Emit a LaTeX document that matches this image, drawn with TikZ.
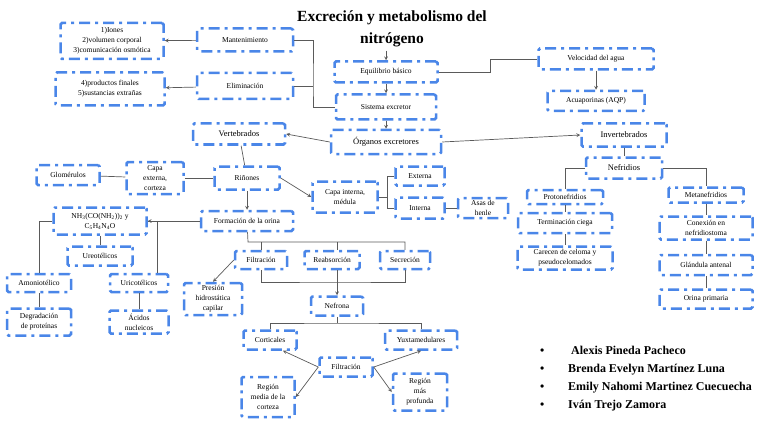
\documentclass[tikz,border=0pt]{standalone}
\usepackage{fontspec}
\setmainfont{Liberation Serif}
\usepackage{xcolor}
\usetikzlibrary{arrows,positioning,calc}
\definecolor{boxblue}{HTML}{4A86E8}
\definecolor{linkgray}{HTML}{5A5A5A}

\begin{document}
\begin{tikzpicture}[x=1pt, y=-1pt, >=stealth,
    box/.style={draw=boxblue, line width=2.5pt, dash pattern=on 11pt off 5pt on 3pt off 5pt, rounded corners=1.5pt, align=center, inner sep=1pt, font=\fontsize{7.5}{10}\selectfont},
    bigbox/.style={box, font=\fontsize{8.5}{10}\selectfont},
    link/.style={draw=linkgray, line width=0.7pt}]
    \useasboundingbox (0,0) rectangle (768,433);

    \node [align=center, font=\fontsize{15.5}{22}\selectfont\bfseries] (title) at (392,29) {Excreción y metabolismo del\\nitrógeno};

    % top centre
    \node [box, minimum width=103pt, minimum height=21pt] (equi) at (386,72) {Equilibrio básico};
    \node [box, below of=equi, node distance=35pt, minimum width=100pt, minimum height=25pt] (sis) {Sistema excretor};
    \node [bigbox, below of=sis, node distance=35pt, minimum width=110pt, minimum height=24pt] (org) {Órganos excretores};
    \node [box, minimum width=96pt, minimum height=23pt] (mant) at (245,40) {Mantenimiento};
    \node [box, below of=mant, node distance=46pt, minimum width=96pt, minimum height=26pt] (elim) {Eliminación};
    \node [box, minimum width=103pt, minimum height=36pt] (ions) at (112,41) {1)Iones\\2)volumen corporal\\3)comunicación osmótica};
    \node [box, minimum width=109pt, minimum height=33pt] (prod) at (110,89) {4)productos finales\\5)sustancias extrañas};
    \node [box, minimum width=115pt, minimum height=21pt] (vel) at (596,59) {Velocidad del agua};
    \node [box, below of=vel, node distance=42pt, minimum width=97pt, minimum height=20pt] (aqp) {Acuaporinas (AQP)};

    % invertebrados
    \node [bigbox, minimum width=85pt, minimum height=23pt] (inv) at (624,135) {Invertebrados};
    \node [bigbox, below of=inv, node distance=33pt, minimum width=76pt, minimum height=21pt] (nef) {Nefridios};
    \node [box, minimum width=76pt, minimum height=14pt] (proto) at (565,197) {Protonefridios};
    \node [box, below of=proto, node distance=26pt, minimum width=94pt, minimum height=20pt] (term) {Terminación ciega};
    \node [box, below of=term, node distance=35pt, minimum width=95pt, minimum height=23pt] (care) {Carecen de celoma y\\pseudocelomados};
    \node [box, minimum width=75pt, minimum height=15pt] (meta) at (706,195) {Metanefridios};
    \node [box, below of=meta, node distance=33pt, minimum width=93pt, minimum height=23pt] (conex) {Conexión en\\nefridiostoma};
    \node [box, below of=conex, node distance=37pt, minimum width=93pt, minimum height=20pt] (glan) {Glándula antenal};
    \node [box, below of=glan, node distance=34pt, minimum width=93pt, minimum height=19pt] (orina) {Orina primaria};

    % vertebrados
    \node [bigbox, minimum width=92pt, minimum height=21pt] (vert) at (239,134) {Vertebrados};
    \node [box, minimum width=65pt, minimum height=23pt] (rin) at (247,178) {Riñones};
    \node [box, minimum width=57pt, minimum height=32pt] (ext) at (155,178) {Capa\\externa,\\corteza};
    \node [box, minimum width=63pt, minimum height=20pt] (glom) at (68,175) {Glomérulos};
    \node [box, minimum width=65pt, minimum height=31pt] (cint) at (345,197) {Capa interna,\\médula};
    \node [box, minimum width=49pt, minimum height=19pt] (exter) at (420,176) {Externa};
    \node [box, minimum width=49pt, minimum height=21pt] (inter) at (420,208) {Interna};
    \node [box, minimum width=50pt, minimum height=20pt] (asas) at (483,208) {Asas de\\henle};
    \node [box, below of=rin, node distance=43pt, minimum width=92pt, minimum height=20pt] (form) {Formación de la orina};

    \node [box, minimum width=93pt, minimum height=27pt] (nh) at (100,221) {NH\textsubscript{3}(CO(NH\textsubscript{2}))\textsubscript{2} y\\C\textsubscript{5}H\textsubscript{4}N\textsubscript{4}O};
    \node [box, below of=nh, node distance=35pt, minimum width=65pt, minimum height=19pt] (ureo) {Ureotélicos};
    \node [box, minimum width=64pt, minimum height=18pt] (amon) at (39,283) {Amoniotélico};
    \node [box, minimum width=58pt, minimum height=18pt] (uric) at (139,283) {Uricotélicos};
    \node [box, below of=amon, node distance=39pt, minimum width=64pt, minimum height=27pt] (degr) {Degradación\\de proteínas};
    \node [box, below of=uric, node distance=39pt, minimum width=59pt, minimum height=23pt] (acid) {Ácidos\\nucleicos};

    % orina
    \node [box, minimum width=52pt, minimum height=18pt] (filt) at (261,260) {Filtración};
    \node [box, minimum width=55pt, minimum height=18pt] (reab) at (332,260) {Reabsorción};
    \node [box, minimum width=50pt, minimum height=18pt] (secr) at (405,260) {Secreción};
    \node [box, minimum width=58pt, minimum height=32pt] (pres) at (213,299) {Presión\\hidrostática\\capilar};
    \node [box, minimum width=52pt, minimum height=19pt] (nefr) at (337,306) {Nefrona};
    \node [box, minimum width=53pt, minimum height=19pt] (cort) at (270,340) {Corticales};
    \node [box, minimum width=72pt, minimum height=19pt] (yuxt) at (421,340) {Yuxtamedulares};
    \node [box, minimum width=53pt, minimum height=19pt] (filtb) at (346,367) {Filtración};
    \node [box, minimum width=53pt, minimum height=40pt] (rmed) at (268,397) {Región\\media de la\\corteza};
    \node [box, minimum width=54pt, minimum height=37pt] (rprof) at (420,392) {Región\\más\\profunda};

    \node [anchor=west, align=left, inner sep=0pt, font=\fontsize{12}{18}\selectfont\bfseries] (team) at (540,379)
        {\makebox[28pt][l]{\textbullet}\hspace{3pt}Alexis Pineda Pacheco\\
         \makebox[28pt][l]{\textbullet}Brenda Evelyn Martínez Luna\\
         \makebox[28pt][l]{\textbullet}Emily Nahomi Martinez Cuecuecha\\
         \makebox[28pt][l]{\textbullet}Iván Trejo Zamora};

    \coordinate (jsis) at (313,86);
    \coordinate (jcap) at (387,197);
    \coordinate (jform) at (248,242);
    \coordinate (jfilt) at (337,282);
    \coordinate (jnefr) at (337,323);

    \draw [link, ->] (title.south -| equi.north) -- (equi.north);
    \draw [link, ->] (equi) -- (sis);
    \draw [link, ->] (sis) -- (org);
    \draw [link, ->] (mant) -- (ions);
    \draw [link, ->] (elim) -- (prod);
    \draw [link] (sis.west) -| (jsis) |- (mant.east);
    \draw [link] (elim.east) -- (jsis);
    \draw [link] (equi.east) -- ++(52,0) |- (vel.west);
    \draw [link, ->] (vel) -- (aqp);
    \draw [link, ->] (org.west) -- (vert.east);
    \draw [link, ->] (org.east) -- (inv.west);

    \draw [link] (inv) -- (nef);
    \draw [link] (nef.west) -| (proto.north);
    \draw [link] (nef.east) -| (meta.north);
    \draw [link] (proto) -- (term);
    \draw [link] (term) -- (care);
    \draw [link] (meta) -- (conex);
    \draw [link] (conex) -- (glan);
    \draw [link] (glan) -- (orina);

    \draw [link] (vert) -- (rin);
    \draw [link] (glom) -- (ext);
    \draw [link] (ext) -- (rin);
    \draw [link, ->] (rin) -- (form);
    \draw [link, ->] (rin.east) -- (cint.west);
    \draw [link] (cint.east) -- (jcap);
    \draw [link] (exter.west) -| (jcap);
    \draw [link] (inter.west) -| (jcap);
    \draw [link] (inter) -- (asas);

    \draw [link, ->] (form.west) -- (nh.east);
    \draw [link] (nh.west) -| (amon.north);
    \draw [link] (nh.east) -| ([xshift=18pt]uric.north);
    \draw [link] (nh) -- (ureo);
    \draw [link] (amon) -- (degr);
    \draw [link] (uric) -- (acid);

    \draw [link] (form) -- (jform) -- (jform -| secr.north) -- (secr.north);
    \draw [link] (filt.north) -- (filt.north |- jform);
    \draw [link] (reab.north -| jfilt) -- (jform -| jfilt);
    \draw [link] (filt.south) |- (jfilt) -| (secr.south);
    \draw [link, ->] (reab.south -| nefr.north) -- (nefr.north);
    \draw [link, ->] (filt.west) -- (pres.north);
    \draw [link] (nefr) -- (jnefr);
    \draw [link] (cort.north) |- (jnefr) -| (yuxt.north);
    \draw [link, ->] (filtb.west) -- ([xshift=13pt]cort.south);
    \draw [link, ->] (filtb.east) -- (yuxt.south);
    \draw [link, ->] (filtb.west) -- (rmed.east);
    \draw [link, ->] (filtb.east) -- (rprof.west);
\end{tikzpicture}
\end{document}
